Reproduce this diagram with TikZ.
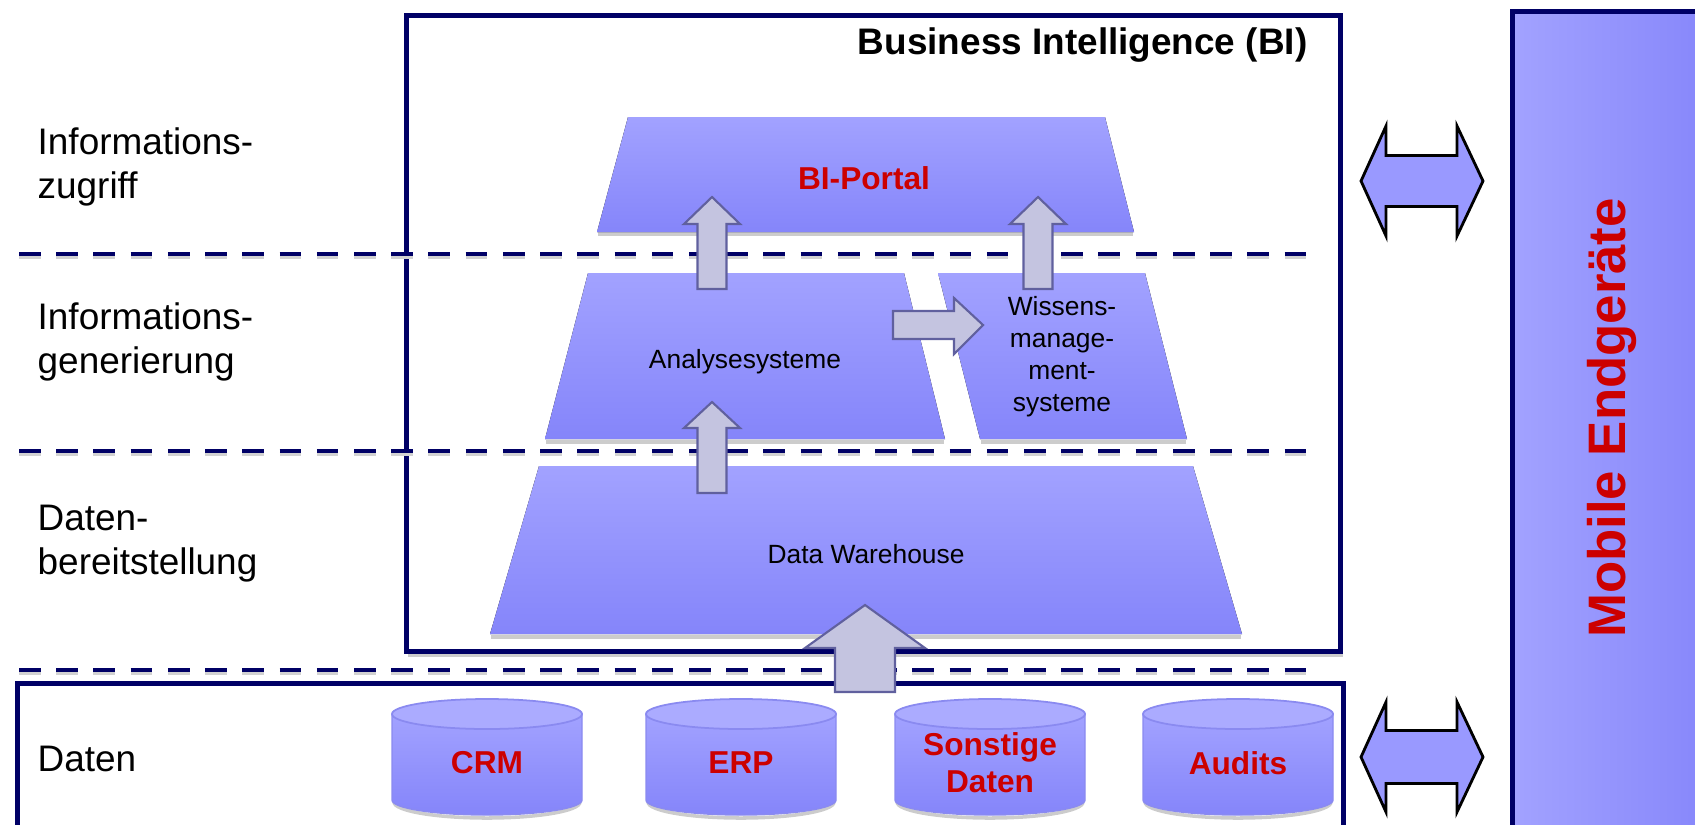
\documentclass[tikz,border=0pt]{standalone}
\usepackage{fontspec}
\setmainfont{Liberation Sans}
\usetikzlibrary{positioning}
\definecolor{navy}{HTML}{000066}
\definecolor{layertop}{HTML}{A2A2FF}
\definecolor{layerbot}{HTML}{8585FA}
\definecolor{cylline}{HTML}{8A8AF0}
\definecolor{arrowfill}{HTML}{C4C4E0}
\definecolor{arrowline}{HTML}{60609E}
\definecolor{bired}{HTML}{CC0000}
\definecolor{dblfill}{HTML}{9999FF}
\tikzstyle{frame} = [draw=navy, line width=1.4pt]
\tikzstyle{levelsep} = [draw=navy, line width=1.4pt, dash pattern=on 0.216cm off 0.156cm]
\tikzstyle{sepshadow} = [draw=gray!35, line width=1.2pt, dash pattern=on 0.216cm off 0.156cm]
\tikzstyle{layer} = [top color=layertop, bottom color=layerbot]
\tikzstyle{dropshadow} = [draw=gray!40, line width=1pt]
\tikzstyle{blockarrow} = [fill=arrowfill, draw=arrowline, line width=0.6pt]
\tikzstyle{dblarrow} = [fill=dblfill, draw=black, line width=0.8pt]
\tikzstyle{levellabel} = [anchor=west, align=left, inner sep=0pt,
    font=\fontsize{10.5}{12.5}\selectfont]
\tikzstyle{plain} = [align=center, inner sep=0pt, font=\fontsize{7.5}{9.1}\selectfont]
\tikzstyle{hot} = [align=center, inner sep=0pt, text=bired,
    font=\bfseries\fontsize{9}{10.5}\selectfont]

\begin{document}
\begin{tikzpicture}[x=0.01cm, y=-0.01cm]
    \useasboundingbox (0,0) rectangle (1695,824);

    % frames
    \draw[dropshadow] (408,655) -- (1343,655);
    \draw[frame] (406.5,15.5) rectangle (1340.5,651.5);
    \draw[frame] (17.5,683.5) rectangle (1343.5,900);
    \node[anchor=east, inner sep=0pt, font=\bfseries\fontsize{10.5}{12.5}\selectfont]
        (bititle) at (1308,45) {Business Intelligence (BI)};

    % level separators
    \foreach \y in {254, 451, 670} {
        \draw[sepshadow] (19,\y+3) -- (1308,\y+3);
        \draw[levelsep] (19,\y) -- (1308,\y);
    }

    % level labels
    \node[levellabel] (zugriff) at (37,167) {Informations-\\zugriff};
    \node[levellabel] (generierung) at (37,342) {Informations-\\generierung};
    \node[levellabel] (bereitstellung) at (37,544) {Daten-\\bereitstellung};
    \node[levellabel] (daten) at (37,759) {Daten};

    % layers
    \draw[dropshadow] (598,234) -- (1133,234);
    \draw[dropshadow] (546,442) -- (944,442);
    \draw[dropshadow] (981,442) -- (1186,442);
    \draw[dropshadow] (491,637) -- (1241,637);
    \fill[layer] (628,117) -- (1105,117) -- (1134,232) -- (597,232) -- cycle;
    \fill[layer] (588,273) -- (904,273) -- (945,439) -- (545,439) -- cycle;
    \fill[layer] (938,273) -- (1145,273) -- (1187,439) -- (980,439) -- cycle;
    \fill[layer] (539,466) -- (1193,466) -- (1242,634) -- (490,634) -- cycle;
    \node[hot] (portal) at (864,178) {BI-Portal};
    \node[plain] (analyse) at (745,362) {Analysesysteme};
    \node[plain] (wissen) at (1062,357) {Wissens-\\manage-\\ment-\\systeme};
    \node[plain] (dwh) at (866,554) {Data Warehouse};

    % data sources
    \foreach \cx/\name/\txt in {487/crm/CRM, 741/erp/ERP,
            990/sonstige/{Sonstige\\Daten}, 1238/audits/Audits} {
        \draw[dropshadow] (\cx-93,802) arc[start angle=180, end angle=0, x radius=93, y radius=16];
        \draw[top color=layertop, bottom color=layerbot, draw=cylline, line width=0.4pt]
            (\cx-95,714) -- (\cx-95,800)
            arc[start angle=180, end angle=0, x radius=95, y radius=15]
            -- (\cx+95,714) -- cycle;
        \draw[fill=layertop!90!white, draw=cylline, line width=0.5pt]
            (\cx,714) ellipse [x radius=95, y radius=15];
        \node[hot] (\name) at (\cx,763) {\txt};
    }

    % block arrows
    \foreach \cx/\t/\b/\e in {712/197/224/289, 1038/197/224/289, 712/402/428/493} {
        \draw[blockarrow] (\cx-14.5,\e) -- (\cx-14.5,\b) -- (\cx-28,\b) -- (\cx,\t)
            -- (\cx+28,\b) -- (\cx+14.5,\b) -- (\cx+14.5,\e) -- cycle;
    }
    \draw[blockarrow] (893,311) -- (954,311) -- (954,298) -- (983,325)
        -- (954,354) -- (954,339) -- (893,339) -- cycle;
    \draw[blockarrow] (835,692) -- (835,648) -- (805,648) -- (865,605)
        -- (925,648) -- (895,648) -- (895,692) -- cycle;

    % mobile devices
    \draw[frame, left color=layertop, right color=layerbot] (1512.5,11.5) rectangle (1720,850);
    \node[text=bired, font=\bfseries\fontsize{15}{18}\selectfont, rotate=90]
        (mobile) at (1612,418) {Mobile Endgeräte};
    \foreach \cy/\sh in {181/25.5, 757/26.5} {
        \draw[dblarrow] (1361,\cy) -- (1386,\cy-55) -- (1386,\cy-\sh) -- (1457,\cy-\sh)
            -- (1457,\cy-55) -- (1483,\cy) -- (1457,\cy+55) -- (1457,\cy+\sh)
            -- (1386,\cy+\sh) -- (1386,\cy+55) -- cycle;
    }
\end{tikzpicture}
\end{document}
